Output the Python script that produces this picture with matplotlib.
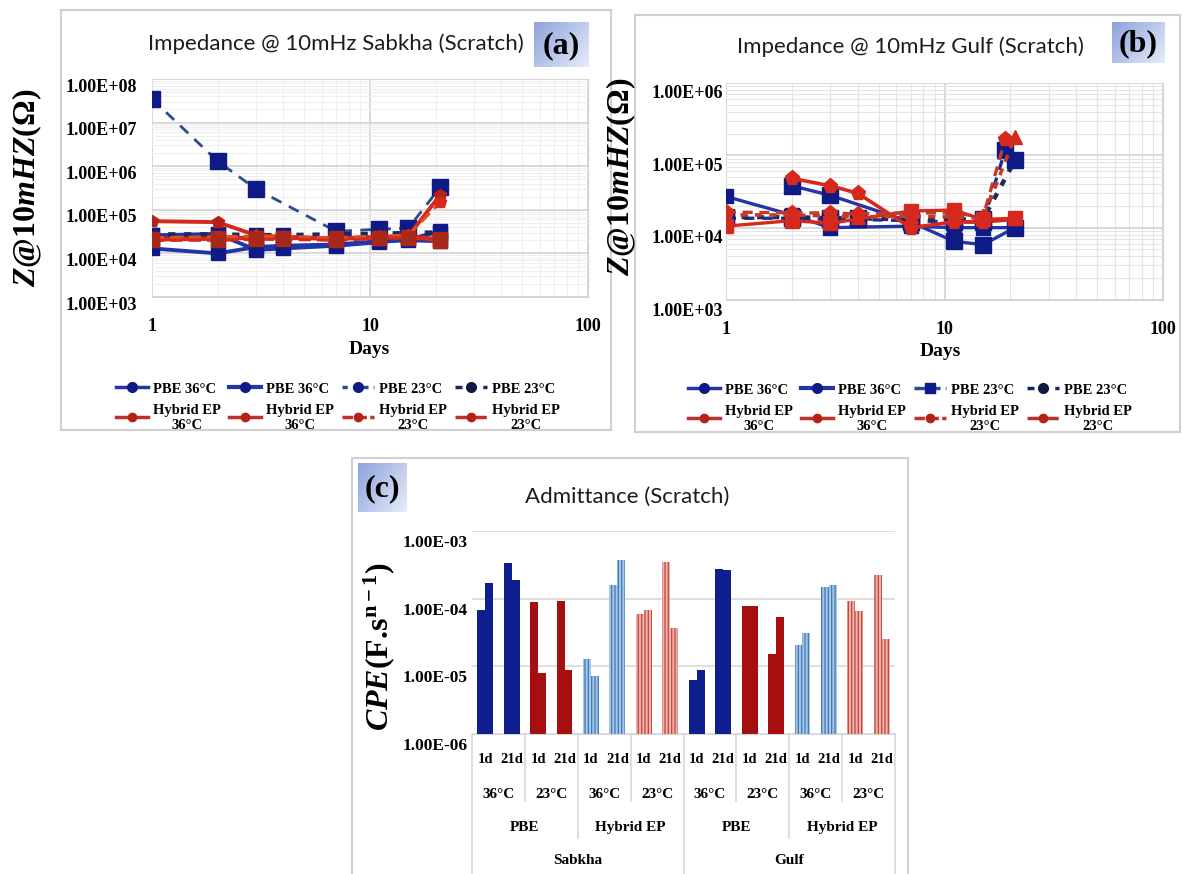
import matplotlib
matplotlib.use('Agg')
import matplotlib.pyplot as plt
import matplotlib.transforms as mtransforms
import numpy as np
from matplotlib.patches import Rectangle
from matplotlib.lines import Line2D
from matplotlib.colors import LinearSegmentedColormap
from matplotlib.ticker import LogLocator, NullFormatter

plt.rcParams['font.family'] = ['Liberation Serif', 'DejaVu Serif']
plt.rcParams['font.weight'] = 'bold'
plt.rcParams['mathtext.fontset'] = 'custom'
plt.rcParams['mathtext.rm'] = 'Liberation Serif:bold'
plt.rcParams['mathtext.it'] = 'Liberation Serif:italic:bold'
plt.rcParams['mathtext.bf'] = 'Liberation Serif:bold'
plt.rcParams['hatch.linewidth'] = 0.9

# ---- (a) impedance @ 10 mHz, Sabkha ----
a_days = [1, 2, 3, 4, 7, 11, 15, 21]
a_days_pbe23 = [1, 2, 3, 7, 11, 15, 21]
a_pbe36_1 = [1.3e4, 1.0e4, 1.4e4, 1.5e4, 1.6e4, 1.9e4, 2.0e4, 1.9e4]
a_pbe36_2 = [2.6e4, 2.8e4, 1.2e4, 1.3e4, 1.5e4, 1.8e4, 2.1e4, 3.2e4]
a_pbe23_1 = [3.5e7, 1.3e6, 3.0e5, 3.2e4, 3.6e4, 3.8e4, 3.3e5]
a_pbe23_2 = [2.7e4, 2.7e4, 2.6e4, 2.6e4, 2.7e4, 2.8e4, 2.9e4, 3.0e4]
a_hyb36_1 = [5.5e4, 5.2e4, 2.6e4, 2.4e4, 2.2e4, 2.4e4, 2.5e4, 2.2e5]
a_hyb36_2 = [2.1e4, 2.2e4, 2.3e4, 2.3e4, 2.2e4, 2.3e4, 2.4e4, 2.1e4]
a_hyb23_1 = [2.3e4, 2.4e4, 2.5e4, 2.4e4, 2.3e4, 2.5e4, 2.6e4, 1.5e5]
a_hyb23_2 = [2.0e4, 2.0e4, 2.1e4, 2.1e4, 2.0e4, 2.2e4, 2.3e4, 1.9e4]

# ---- (b) impedance @ 10 mHz, Gulf ----
b_days_1 = [1, 2, 3, 7, 11, 15, 21]
b_pbe36_1 = [2.7e4, 1.5e4, 1.0e4, 1.05e4, 1.0e4, 1.0e4, 1.0e4]
b_days_2 = [2, 3, 7, 11, 15, 21]
b_pbe36_2 = [3.8e4, 2.8e4, 1.2e4, 6.5e3, 5.8e3, 1.0e4]
b_days_3 = [1, 2, 3, 4, 7, 11, 15, 19]
b_pbe23_1 = [1.35e4, 1.35e4, 1.3e4, 1.3e4, 1.25e4, 1.2e4, 1.2e4, 1.2e5]
b_days_4 = [1, 2, 3, 4, 7, 11, 15, 21]
b_pbe23_2 = [1.4e4, 1.4e4, 1.35e4, 1.35e4, 1.3e4, 1.3e4, 1.3e4, 8.5e4]
b_days_5 = [2, 3, 4, 7, 11, 15, 21]
b_hyb36_1 = [4.8e4, 3.8e4, 3.0e4, 1.0e4, 1.2e4, 1.2e4, 1.3e4]
b_days_6 = [1, 2, 3, 7, 11, 15, 21]
b_hyb36_2 = [1.05e4, 1.25e4, 1.15e4, 1.7e4, 1.75e4, 1.3e4, 1.35e4]
b_days_7 = [1, 2, 3, 4, 7, 11, 15, 19]
b_hyb23_1 = [1.65e4, 1.6e4, 1.6e4, 1.55e4, 1.6e4, 1.6e4, 1.4e4, 1.7e5]
b_days_8 = [1, 2, 3, 4, 7, 11, 15, 21]
b_hyb23_2 = [1.5e4, 1.5e4, 1.45e4, 1.4e4, 1.45e4, 1.4e4, 1.35e4, 1.8e5]

# ---- (c) admittance ----
c_days = ['1d', '21d'] * 8
c_temps = ['36°C', '23°C'] * 4
c_coats = ['PBE', 'Hybrid EP'] * 2
c_sites = ['Sabkha', 'Gulf']
cpe_1 = [6.7e-5, 3.4e-4, 8.9e-5, 9.2e-5, 1.2e-5, 1.6e-4, 5.9e-5, 3.5e-4,
         5.2e-6, 2.7e-4, 7.8e-5, 1.4e-5, 2.0e-5, 1.5e-4, 9.2e-5, 2.2e-4]
cpe_2 = [1.7e-4, 1.9e-4, 6.9e-6, 7.8e-6, 6.3e-6, 3.7e-4, 6.7e-5, 3.6e-5,
         7.7e-6, 2.6e-4, 7.8e-5, 5.2e-5, 3.0e-5, 1.6e-4, 6.4e-5, 2.4e-5]

W, H = 1183, 874
fig = plt.figure(figsize=(W / 100, H / 100), dpi=100)


def add_ax(x0, y0, x1, y1):
    return fig.add_axes([x0 / W, 1 - y1 / H, (x1 - x0) / W, (y1 - y0) / H])


def ftext(x, y, s, **kw):
    return fig.text(x / W, 1 - y / H, s, **kw)


def frame(x0, y0, x1, y1):
    fig.add_artist(Rectangle((x0 / W, 1 - y1 / H), (x1 - x0) / W, (y1 - y0) / H,
                             transform=fig.transFigure, fill=False,
                             ec='#d0d0d0', lw=1.5, zorder=0))


def letter_box(x0, y0, x1, y1, s):
    bax = add_ax(x0, y0, x1, y1)
    g = np.linspace(0, 1, 64)
    grad = (g[None, :] * 0.6 + g[:, None] * 0.4)
    cmap = LinearSegmentedColormap.from_list('lb', ['#8ea2dc', '#e6ecf9'])
    bax.imshow(grad, cmap=cmap, aspect='auto', extent=(0, 1, 0, 1))
    bax.axis('off')
    bax.text(0.5, 0.47, s, ha='center', va='center', fontsize=23,
             fontweight='bold', transform=bax.transAxes)


title_font = dict(family=['Lato', 'DejaVu Sans'],
                  fontweight='normal', fontsize=16, color='#1c1c1c',
                  ha='center', va='center')

navy = '#0e1b86'
blue = '#2236a6'
red = '#d4291c'
dred = '#b52117'


def shift_labels(labels, dy_px):
    off = mtransforms.ScaledTranslation(0, -dy_px / 100, fig.dpi_scale_trans)
    for lab in labels:
        lab.set_transform(lab.get_transform() + off)


def style_log_axes(ax, ymin, ymax, ypad, grid_minor, dy):
    ax.set_xscale('log')
    ax.set_yscale('log')
    ax.set_xlim(1, 100)
    ax.set_ylim(ymin, ymax)
    ax.xaxis.set_minor_locator(LogLocator(base=10, subs=np.arange(2, 10)))
    ax.yaxis.set_minor_locator(LogLocator(base=10, subs=np.arange(2, 10)))
    ax.xaxis.set_minor_formatter(NullFormatter())
    ax.yaxis.set_minor_formatter(NullFormatter())
    ax.grid(which='major', color='#d2d2d2', lw=1.2)
    ax.grid(which='minor', color=grid_minor, lw=0.8)
    ax.set_axisbelow(True)
    for sp in ax.spines.values():
        sp.set_color('#d2d2d2')
    ax.spines['left'].set_visible(False)
    ax.spines['top'].set_visible(False)
    ax.set_xticks([1, 10, 100], ['1', '10', '100'])
    decades = [10.0 ** k for k in range(int(np.log10(ymin)), int(np.log10(ymax)) + 1)]
    ax.set_yticks(decades, ['%.2E' % v for v in decades])
    ax.tick_params(which='both', length=0)
    ax.tick_params(axis='x', labelsize=13, pad=15)
    ax.tick_params(axis='y', labelsize=13, pad=ypad)
    shift_labels(ax.get_yticklabels(), dy)


# ================= panel (a) =================
frame(61, 10, 611, 430)
axa = add_ax(152, 79, 588, 297)
style_log_axes(axa, 1e3, 1e8, 11, '#efefef', 6)
axa.plot(a_days, a_pbe36_1, color=blue, lw=2.8, marker='s', ms=10, mfc=navy, mec=navy, zorder=3)
axa.plot(a_days, a_pbe36_2, color=blue, lw=2.8, marker='s', ms=10, mfc=navy, mec=navy, zorder=3)
axa.plot(a_days_pbe23, a_pbe23_1, color='#2c4c8c', lw=2, ls=(0, (4, 3)), marker='s', ms=11,
         mfc=navy, mec=navy, zorder=3)
axa.plot(a_days, a_pbe23_2, color='#1a2766', lw=3.5, ls=(0, (1.5, 1.8)), marker='s', ms=10,
         mfc=navy, mec=navy, zorder=3)
axa.plot(a_days, a_hyb36_1, color=red, lw=2.8, marker='p', ms=9, mfc=dred, mec=dred, zorder=4)
axa.plot(a_days, a_hyb36_2, color=red, lw=3.2, marker='s', ms=10, mfc=dred, mec=dred, zorder=4)
axa.plot(a_days, a_hyb23_1, color='#e0501e', lw=2.2, ls=(0, (4, 2)), marker='p', ms=9,
         mfc=red, mec=red, zorder=4)
axa.plot(a_days, a_hyb23_2, color=red, lw=2.2, ls=(0, (4, 2)), marker='s', ms=10,
         mfc='#a8281a', mec='#a8281a', zorder=4)

ftext(336, 44, 'Impedance @ 10mHz Sabkha (Scratch)', **title_font)
letter_box(534, 22, 589, 67, '(a)')
ftext(27, 188, r'$Z$@10$mHZ$(Ω)', rotation=90, fontsize=23, ha='center', va='center')
ftext(369, 350, 'Days', fontsize=14, ha='center', va='center')

# ================= panel (b) =================
frame(635, 15, 1180, 432)
axb = add_ax(726, 83, 1163, 300)
style_log_axes(axb, 1e3, 1e6, 2, '#e4e4e4', 9)
axb.plot(b_days_1, b_pbe36_1, color=blue, lw=2.4, marker='s', ms=10, mfc=navy, mec=navy, zorder=3)
axb.plot(b_days_2, b_pbe36_2, color=blue, lw=2.4, marker='s', ms=11, mfc=navy, mec=navy, zorder=3)
axb.plot(b_days_3, b_pbe23_1, color='#1d2f8a', lw=2.4, ls=(0, (3, 2.5)), marker='s', ms=11,
         mfc=navy, mec=navy, zorder=3)
axb.plot(b_days_4, b_pbe23_2, color='#222a55', lw=3.2, ls=(0, (1.5, 2)), marker='s', ms=11,
         mfc=navy, mec=navy, zorder=3)
axb.plot(b_days_5, b_hyb36_1, color=red, lw=2.6, marker='p', ms=11, mfc=red, mec=red, zorder=4)
axb.plot(b_days_6, b_hyb36_2, color=red, lw=2.4, marker='s', ms=10, mfc=red, mec=red, zorder=4)
axb.plot(b_days_7, b_hyb23_1, color='#c23b2a', lw=2.4, ls=(0, (3, 2)), marker='p', ms=11,
         mfc=red, mec=red, zorder=4)
axb.plot(b_days_8, b_hyb23_2, color='#c23b2a', lw=2.6, ls=(0, (2, 2)), marker='^', ms=10,
         mfc=red, mec=red, zorder=4)

ftext(910, 47, 'Impedance @ 10mHz Gulf (Scratch)', **title_font)
letter_box(1112, 22, 1165, 63, '(b)')
ftext(621, 177, r'$Z$@10$mHZ$(Ω)', rotation=90, fontsize=23, ha='center', va='center')
ftext(940, 352, 'Days', fontsize=14, ha='center', va='center')


# ---- legends for (a) and (b) ----
def legend_handles(dash1, dash2, m3):
    pbe = [Line2D([], [], color=blue, lw=2.5, marker='o', ms=7, mfc=navy, mec=navy),
           Line2D([], [], color=blue, lw=3, marker='o', ms=7, mfc=navy, mec=navy),
           Line2D([], [], color='#2c4c8c', lw=2.5, ls=dash1, marker=m3, ms=7, mfc=navy, mec=navy),
           Line2D([], [], color='#1a2766', lw=2.5, ls=dash2, marker='o', ms=7, mfc='#111844',
                  mec='#111844')]
    hyb = [Line2D([], [], color='#c0302a', lw=2.5, marker='o', ms=6, mfc=dred, mec=dred),
           Line2D([], [], color='#c0302a', lw=2.5, marker='o', ms=6, mfc=dred, mec=dred),
           Line2D([], [], color='#c0302a', lw=2.5, ls=(0, (3, 1)), marker='o', ms=6, mfc=dred,
                  mec=dred),
           Line2D([], [], color='#c0302a', lw=2.5, ls=(0, (4, 1)), marker='o', ms=6, mfc=dred,
                  mec=dred)]
    labels_p = ['PBE 36°C', 'PBE 36°C', 'PBE 23°C', 'PBE 23°C']
    labels_h = ['Hybrid EP\n36°C'] * 2 + ['Hybrid EP\n23°C'] * 2
    handles, labels = [], []
    for i in range(4):
        handles += [pbe[i], hyb[i]]
        labels += [labels_p[i], labels_h[i]]
    return handles, labels


for cx, top, dash1, m3 in [(338, 375, (0, (1.5, 1.5)), 'o'), (910, 376, (0, (3, 1.5)), 's')]:
    hs, ls = legend_handles(dash1, (0, (2, 2)), m3)
    leg = fig.legend(hs, ls, loc='upper center', bbox_to_anchor=(cx / W, 1 - top / H),
                     ncol=4, frameon=False, fontsize=10.5, handlelength=2.2,
                     handletextpad=0.35, columnspacing=0.55, labelspacing=0.55,
                     borderpad=0)
    for t in leg.get_texts():
        t.set_multialignment('center')

# ================= panel (c) =================
frame(352, 458, 908, 884)
axc = add_ax(472, 531, 895, 734)
x = np.arange(len(cpe_1))
w = 0.3
face = ['#0f1f8f', '#a50f0f', '#a6c6e6', '#eeb3ab']
hatch_col = ['#0f1f8f', '#a50f0f', '#3f78b8', '#c4463d']
hatch = [None, None, '|||||', '|||||']
for i in range(len(x)):
    g = (i // 2) % 4
    for xx, v in [(x[i] - w / 2, cpe_1[i]), (x[i] + w / 2, cpe_2[i])]:
        axc.bar(xx, v, w, bottom=1e-6, color=face[g], edgecolor=hatch_col[g],
                hatch=hatch[g], linewidth=0, zorder=3)
axc.set_yscale('log')
axc.set_ylim(1e-6, 1e-3)
axc.set_xlim(-0.5, len(x) - 0.5)
axc.set_yticks([1e-6, 1e-5, 1e-4, 1e-3], ['%.2E' % v for v in [1e-6, 1e-5, 1e-4, 1e-3]])
axc.yaxis.set_minor_locator(LogLocator(base=10, subs=[]))
axc.set_xticks([])
axc.grid(axis='y', which='major', color='#d8d8d8', lw=1.2)
axc.set_axisbelow(True)
for sp in ['left', 'top', 'right']:
    axc.spines[sp].set_visible(False)
axc.spines['bottom'].set_color('#d8d8d8')
axc.tick_params(which='both', length=0)
axc.tick_params(axis='y', labelsize=12.5, pad=3)
shift_labels(axc.get_yticklabels(), 10)

trc = axc.get_xaxis_transform()
for i, s in enumerate(c_days):
    axc.text(x[i], -0.128, s, transform=trc, ha='center', va='center', fontsize=10.5)
for k, s in enumerate(c_temps):
    axc.text(2 * k + 0.5, -0.30, s, transform=trc, ha='center', va='center', fontsize=11)
for k, s in enumerate(c_coats):
    axc.text(4 * k + 1.5, -0.463, s, transform=trc, ha='center', va='center', fontsize=11)
for k, s in enumerate(c_sites):
    axc.text(8 * k + 3.5, -0.625, s, transform=trc, ha='center', va='center', fontsize=11)
for k in range(9):
    xb = 2 * k - 0.5
    if k % 4 == 0:
        depth = -0.75
    elif k % 2 == 0:
        depth = -0.51
    else:
        depth = -0.33
    axc.plot([xb, xb], [0, depth], transform=trc, color='#d8d8d8', lw=1.2, clip_on=False)

ftext(627, 497, 'Admittance (Scratch)', **title_font)
letter_box(358, 463, 407, 512, '(c)')
ftext(379, 647, r'$CPE$(F.s$^{\mathrm{n-1}}$)', rotation=90, fontsize=23,
      ha='center', va='center')

fig.savefig('out.png', dpi=100, facecolor='white')
